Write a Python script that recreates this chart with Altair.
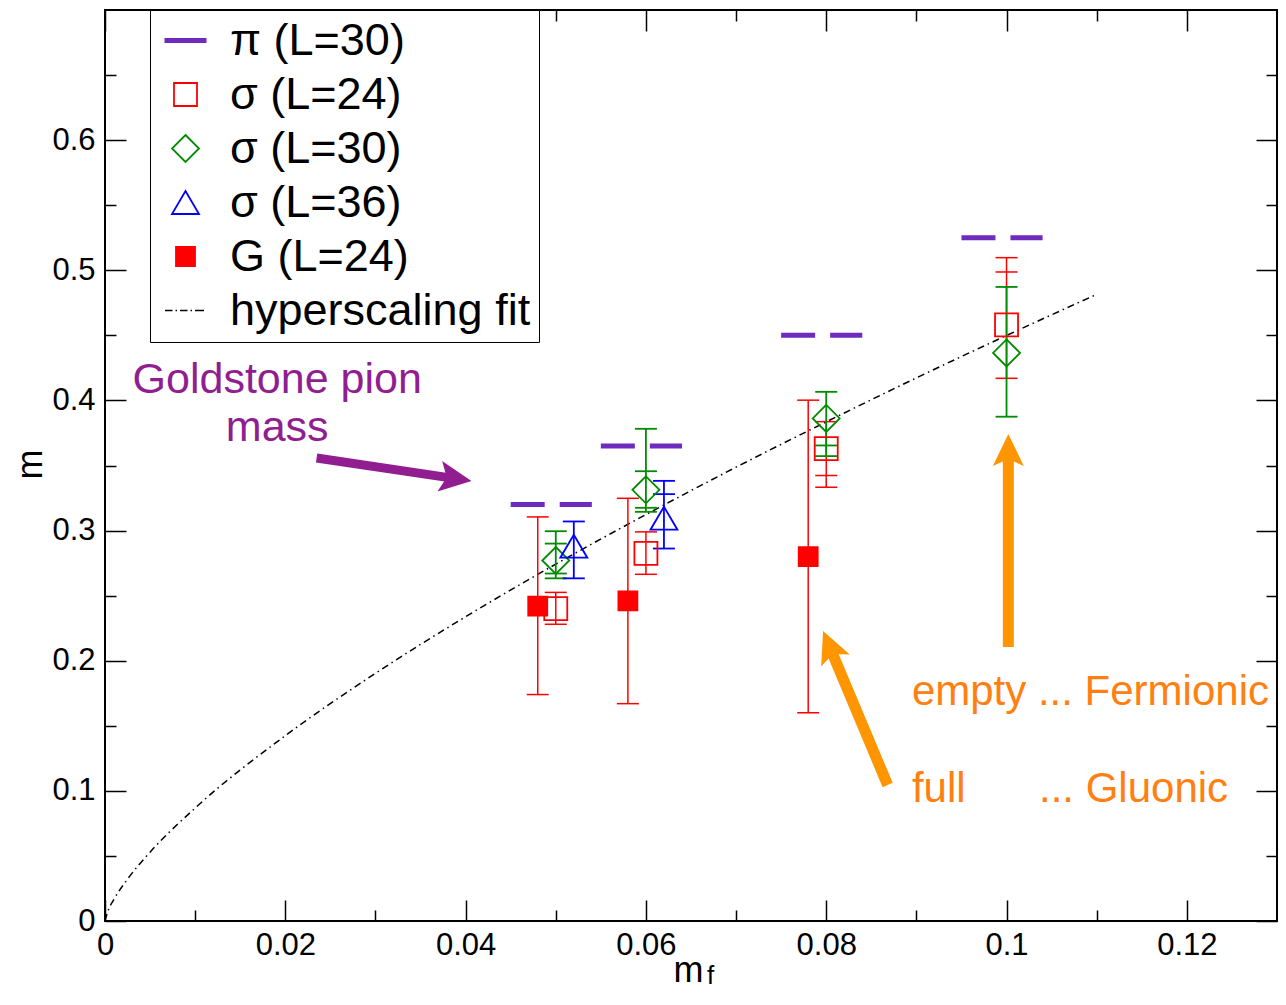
import math
import altair as alt
import pandas as pd

# ---------------- data ----------------
SERIES = ["π (L=30)", "σ (L=24)", "σ (L=30)", "σ (L=36)", "G (L=24)", "hyperscaling fit"]

pi_mf = [0.05, 0.06, 0.08, 0.10]
pi_m = [0.320, 0.365, 0.450, 0.525]

s24_mf = [0.05, 0.06, 0.08, 0.10]
s24_m = [0.240, 0.2825, 0.363, 0.458]
s24_lo = [0.228, 0.2664, 0.3333, 0.417]
s24_hi = [0.2525, 0.299, 0.3837, 0.5097]
s24_lo_in = [None, None, 0.3423, None]
s24_hi_in = [None, None, None, 0.4987]

s30_mf = [0.05, 0.06, 0.08, 0.10]
s30_m = [0.277, 0.3313, 0.3862, 0.4365]
s30_lo = [0.2633, 0.3144, 0.3572, 0.3875]
s30_hi = [0.2995, 0.3782, 0.4066, 0.4872]
s30_lo_in = [0.267, 0.3175, 0.3654, None]
s30_hi_in = [0.290, 0.3456, None, None]

s36_mf = [0.052, 0.062]
s36_m = [0.288, 0.3095]
s36_lo = [0.2633, 0.2862]
s36_hi = [0.307, 0.3382]
s36_lo_in = [None, None]
s36_hi_in = [None, 0.328]

g_mf = [0.048, 0.058, 0.078]
g_m = [0.242, 0.246, 0.280]
g_lo = [0.174, 0.167, 0.160]
g_hi = [0.3105, 0.3248, 0.4002]

fit_mf = [0, 0.0003, 0.001, 0.0025, 0.005, 0.01, 0.02, 0.03, 0.04, 0.05,
          0.06, 0.07, 0.08, 0.09, 0.10, 0.11]
fit_m = [0, 0.0071, 0.0167, 0.0322, 0.0529, 0.0868, 0.1424, 0.1903, 0.2338, 0.2742,
         0.3123, 0.3487, 0.3835, 0.4173, 0.4499, 0.4815]

x_major = [0, 0.02, 0.04, 0.06, 0.08, 0.1, 0.12]
x_minor = [0.01, 0.03, 0.05, 0.07, 0.09, 0.11]
y_major = [0, 0.1, 0.2, 0.3, 0.4, 0.5, 0.6]
y_minor = [0.05, 0.15, 0.25, 0.35, 0.45, 0.55, 0.65]

# annotations (data coordinates)
note_text = ["Goldstone pion", "mass", "empty ... Fermionic", "full", "... Gluonic"]
note_x = [0.0191, 0.0191, 0.0895, 0.0895, 0.1036]
note_y = [0.4057, 0.3690, 0.1660, 0.0914, 0.0914]

arrow_tail_x = [0.02347, 0.1002, 0.08681]
arrow_tail_y = [0.3558, 0.2105, 0.1045]
arrow_tip_x = [0.04065, 0.1002, 0.07965]
arrow_tip_y = [0.3381, 0.3742, 0.2228]

# ---------------- styling ----------------
W, H = 1172, 911
XMAX, YMAX = 0.13, 0.70
FONT = "Liberation Sans"
RED, GREEN, BLUE = "#FF0000", "#008B00", "#0000FF"
PI_PURPLE = "#6E2BBE"
ANN_PURPLE = "#911E91"
ORANGE_ARROW = "#FF9500"
ORANGE_TEXT = "#FF8010"

xs = alt.Scale(domain=[0, XMAX], nice=False, zero=False)
ys = alt.Scale(domain=[0, YMAX], nice=False, zero=False)


def X(field, axis=None):
    return alt.X(field, type="quantitative", scale=xs, axis=axis)


def Y(field, axis=None):
    return alt.Y(field, type="quantitative", scale=ys, axis=axis)


# symbol paths (size 100 -> 5 px per unit)
SHAPES = [
    "M-4.2,-0.5L4.2,-0.5L4.2,0.5L-4.2,0.5Z",
    "M-2.3,-2.3L2.3,-2.3L2.3,2.3L-2.3,2.3Z",
    "M0,-2.7L2.7,0L0,2.7L-2.7,0Z",
    "M0,-2.3L2.7,2.3L-2.7,2.3Z",
    "M-1.9,-1.9L1.9,-1.9L1.9,1.9L-1.9,1.9Z",
    "M-4.1,-0.15h1.5v0.3h-1.5Z M-2.0,-0.15h0.3v0.3h-0.3Z M-1.1,-0.15h1.5v0.3h-1.5Z "
    "M1.0,-0.15h0.3v0.3h-0.3Z M1.9,-0.15h1.8v0.3h-1.8Z",
]
STROKES = ["transparent", RED, GREEN, BLUE, RED, "transparent"]
FILLS = [PI_PURPLE, "transparent", "transparent", "transparent", RED, "black"]

legend = alt.Legend(
    title=None, orient="none", legendX=45, legendY=0, padding=8, rowPadding=8,
    labelFontSize=45, labelFont=FONT, labelColor="black", labelLimit=700,
    symbolSize=100, symbolStrokeWidth=1.8, symbolOffset=5, labelOffset=22,
    strokeColor="black", fillColor="white", symbolFillColor="transparent",
)

# ---------------- marks ----------------
pts = pd.DataFrame({
    "series": [SERIES[1]] * len(s24_mf) + [SERIES[2]] * len(s30_mf)
              + [SERIES[3]] * len(s36_mf) + [SERIES[4]] * len(g_mf),
    "mf": s24_mf + s30_mf + s36_mf + g_mf,
    "m": s24_m + s30_m + s36_m + g_m,
})

points = alt.Chart(pts).mark_point(filled=False, size=100, opacity=1, strokeWidth=1.8).encode(
    x=X("mf"), y=Y("m"),
    color=alt.Color("series:N", scale=alt.Scale(domain=SERIES, range=STROKES), legend=legend),
    fill=alt.Fill("series:N", scale=alt.Scale(domain=SERIES, range=FILLS), legend=legend),
    shape=alt.Shape("series:N", scale=alt.Scale(domain=SERIES, range=SHAPES), legend=legend),
)


def errbars(mf, lo, hi, lo_in, hi_in, color, width):
    df = pd.DataFrame({"mf": mf, "lo": lo, "hi": hi})
    rules = alt.Chart(df).mark_rule(color=color, strokeWidth=width).encode(
        x=X("mf"), y=Y("lo"), y2=alt.Y2("hi"))
    cx, cy = [], []
    for arr in (lo, hi, lo_in, hi_in):
        for xv, yv in zip(mf, arr):
            if yv is not None:
                cx.append(xv)
                cy.append(yv)
    caps = alt.Chart(pd.DataFrame({"mf": cx, "y": cy})).mark_point(
        shape="stroke", size=484, filled=False, color=color, strokeWidth=width, opacity=1
    ).encode(x=X("mf"), y=Y("y"))
    return [rules, caps]


err_layers = []
err_layers += errbars(g_mf, g_lo, g_hi, [None] * 3, [None] * 3, RED, 1.5)
err_layers += errbars(s24_mf, s24_lo, s24_hi, s24_lo_in, s24_hi_in, RED, 1.5)
err_layers += errbars(s30_mf, s30_lo, s30_hi, s30_lo_in, s30_hi_in, GREEN, 1.8)
err_layers += errbars(s36_mf, s36_lo, s36_hi, s36_lo_in, s36_hi_in, BLUE, 1.8)

fit = alt.Chart(pd.DataFrame({"mf": fit_mf, "m": fit_m})).mark_line(
    color="black", strokeWidth=1.5, strokeDash=[7, 4, 1.5, 4], interpolate="monotone"
).encode(x=X("mf"), y=Y("m"))

pion = alt.Chart(pd.DataFrame({"mf": pi_mf, "m": pi_m})).transform_calculate(
    x0="datum.mf - 0.005", x1="datum.mf + 0.004"
).mark_rule(color=PI_PURPLE, strokeWidth=5, strokeDash=[34, 15]).encode(
    x=X("x0:Q"), x2=alt.X2("x1:Q"), y=Y("m"))

# arrows
PPX, PPY = W / XMAX, H / YMAX
arrow_colors = [ANN_PURPLE, ORANGE_ARROW, ORANGE_ARROW]
arrow_widths = [9, 11, 11]
HEAD = "M0,0L-6.4,-3.1L-5,0L-6.4,3.1Z"
arrow_layers = []
for tx, ty, px_, py_, col, wd in zip(arrow_tail_x, arrow_tail_y, arrow_tip_x, arrow_tip_y,
                                      arrow_colors, arrow_widths):
    dxp = (px_ - tx) * PPX
    dyp = -(py_ - ty) * PPY
    L = math.hypot(dxp, dyp)
    ux, uy = dxp / L, dyp / L
    bx = px_ - 23 * ux / PPX
    by = py_ + 23 * uy / PPY
    ang = math.degrees(math.atan2(dyp, dxp)) % 360
    shaft = alt.Chart(pd.DataFrame({"x": [tx], "y": [ty], "x2": [bx], "y2": [by]})).mark_rule(
        color=col, strokeWidth=wd, strokeCap="butt"
    ).encode(x=X("x"), y=Y("y"), x2=alt.X2("x2"), y2=alt.Y2("y2"))
    head = alt.Chart(pd.DataFrame({"x": [px_], "y": [py_], "a": [ang]})).mark_point(
        shape=HEAD, size=100, filled=True, color=col, opacity=1, strokeWidth=0
    ).encode(x=X("x"), y=Y("y"), angle=alt.Angle("a:Q", scale=None))
    arrow_layers += [shaft, head]

note_colors = [ANN_PURPLE, ANN_PURPLE, ORANGE_TEXT, ORANGE_TEXT, ORANGE_TEXT]
note_align = ["center", "center", "left", "left", "left"]
note_size = [43, 43, 42, 42, 42]
text_layers = []
for t, xv, yv, col, al, fs in zip(note_text, note_x, note_y, note_colors, note_align, note_size):
    text_layers.append(
        alt.Chart(pd.DataFrame({"x": [xv], "y": [yv], "t": [t]})).mark_text(
            font=FONT, fontSize=fs, color=col, align=al, baseline="alphabetic"
        ).encode(x=X("x"), y=Y("y"), text="t:N")
    )

# ---------------- axes (carried by invisible layers) ----------------
carrier_df = pd.DataFrame({"mf": [0.0], "m": [0.0]})


def carrier(xaxis, yaxis):
    return alt.Chart(carrier_df).mark_point(opacity=0).encode(
        x=X("mf", xaxis), y=Y("m", yaxis))


def tick_axis(orient, values, size, offset):
    return alt.Axis(orient=orient, values=values, labels=False, domain=False, ticks=True,
                    tickSize=size, tickWidth=1.5, tickColor="black", title=None,
                    offset=offset, grid=False)


ax_x_labels = alt.Axis(orient="bottom", values=x_major, format="~g", labelFontSize=31,
                       labelPadding=9, labelFlush=False, labelOverlap=False, ticks=False,
                       tickSize=0, domain=False, grid=False, title="m", titleFontSize=36,
                       titleX=583, titleY=60, titleBaseline="alphabetic", titleAlign="center")
ax_y_labels = alt.Axis(orient="left", values=y_major, format="~g", labelFontSize=31,
                       labelPadding=10, labelFlush=False, labelOverlap=False, ticks=False,
                       tickSize=0, domain=False, grid=False, title="m", titleFontSize=36,
                       titleX=-64, titleY=454, titleAngle=270, titleBaseline="alphabetic",
                       titleAlign="center")
ax_f = alt.Axis(orient="bottom", labels=False, ticks=False, domain=False, grid=False,
                title="f", titleFontSize=26, titleX=605, titleY=62,
                titleBaseline="alphabetic", titleAlign="center")

carriers = [
    carrier(ax_x_labels, ax_y_labels),
    carrier(tick_axis("top", x_major, 21, -H), tick_axis("right", y_major, 21, -W)),
    carrier(tick_axis("top", x_minor, 11, -H), tick_axis("right", y_minor, 11, -W)),
    carrier(tick_axis("bottom", x_major, 21, -H), tick_axis("left", y_major, 21, -W)),
    carrier(tick_axis("bottom", x_minor, 11, -H), tick_axis("left", y_minor, 11, -W)),
    carrier(ax_f, None),
]

chart = alt.layer(
    *carriers, fit, pion, *err_layers, points, *arrow_layers, *text_layers
).resolve_axis(
    x="independent", y="independent"
).properties(
    width=W, height=H,
    padding={"left": 97, "top": 2, "right": 1, "bottom": 70},
    autosize=alt.AutoSizeParams(type="none"),
).configure(
    font=FONT, background="white"
).configure_view(
    stroke="black", strokeWidth=2
).configure_axis(
    grid=False, labelFont=FONT, titleFont=FONT, labelColor="black", titleColor="black",
    titleFontWeight="normal"
)

chart.save("out.html", embed_options={"renderer": "svg", "actions": False})
